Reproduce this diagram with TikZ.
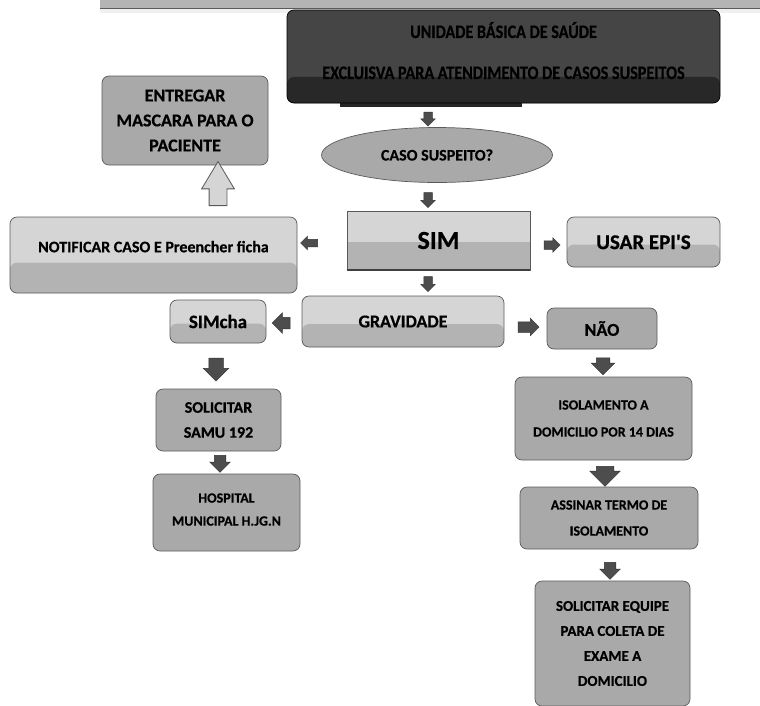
\documentclass[tikz,border=0pt]{standalone}
\usepackage{fontspec}
\setmainfont{Carlito}[BoldFeatures={FakeBold=0.6}]
\newfontfamily\ubsfont{Carlito}[FakeStretch=0.85, BoldFeatures={FakeBold=0.6}]
\usetikzlibrary{shapes.geometric,shapes.arrows,calc}

\definecolor{boxline}{HTML}{5A5A5A}
\definecolor{boxfill}{HTML}{A9A9A9}
\definecolor{lighttop}{HTML}{D5D5D5}
\definecolor{lightbot}{HTML}{B3B3B3}
\definecolor{ubstop}{HTML}{454545}
\definecolor{ubsbot}{HTML}{282828}
\definecolor{arrfill}{HTML}{4D4D4D}
\definecolor{arrline}{HTML}{333333}
\definecolor{topband}{HTML}{B4B4B4}

\tikzset{
  caixa/.style={draw=boxline, fill=boxfill, rounded corners=7pt, align=center,
                inner sep=0pt, line width=0.7pt},
  duas/.style 2 args={path picture={\fill[#2]
      ($(path picture bounding box.north west)!#1!(path picture bounding box.south west)$)
      rectangle (path picture bounding box.south east);}},
  seta/.style={single arrow, draw=arrline, fill=arrfill, inner xsep=0pt,
               single arrow head indent=0pt, line width=0.5pt},
}

\begin{document}
\begin{tikzpicture}[x=1pt,y=-1pt]
    \useasboundingbox (0,0) rectangle (760,705);

    %%% Faixa do topo %%%
    \fill[topband] (100,0) rectangle (760,8);
    \draw[boxline] (100,8) -- (760,8);
    \fill[gray!12] (100,9) rectangle (760,13);

    %%% Caixas %%%
    \fill[black!85] (340,100) rectangle (522,107);
    \node[caixa, fill=ubstop, duas={0.72}{ubsbot}, draw=black, minimum width=433pt, minimum height=93pt,
          text depth=12pt, font=\ubsfont\bfseries\fontsize{19}{41}\selectfont] (ubs) at (503.5,56.5)
          {UNIDADE BÁSICA DE SAÚDE\\EXCLUISVA PARA ATENDIMENTO DE CASOS SUSPEITOS};
    \node[caixa, ellipse, minimum width=231pt, minimum height=55pt,
          font=\bfseries\fontsize{16}{19}\selectfont] (caso) at (437,155) {CASO SUSPEITO?};
    \node[caixa, rounded corners=0pt, fill=lighttop, duas={0.52}{lightbot}, minimum width=183pt, minimum height=59pt,
          font=\bfseries\fontsize{26}{30}\selectfont] (sim) at (438.5,240.5) {SIM};
    \draw[line width=2pt, black!75] (sim.south west) -- (sim.south east);
    \node[caixa, fill=lighttop, duas={0.6}{lightbot}, minimum width=287pt, minimum height=76pt,
          text height=10pt, text depth=15.6pt,
          font=\bfseries\fontsize{16}{19}\selectfont] (notif) at (153.5,255) {NOTIFICAR CASO E Preencher ficha};
    \node[caixa, minimum width=166pt, minimum height=89pt,
          font=\bfseries\fontsize{18}{25}\selectfont] (masc) at (185,120.5) {ENTREGAR\\MASCARA PARA O\\PACIENTE};
    \node[caixa, fill=lighttop, duas={0.55}{lightbot}, minimum width=153pt, minimum height=50pt,
          font=\bfseries\fontsize{21}{24}\selectfont] (usar) at (643.5,242) {USAR EPI\textquotesingle S};
    \node[caixa, fill=lighttop, duas={0.55}{lightbot}, minimum width=202pt, minimum height=51pt,
          font=\bfseries\fontsize{18}{22}\selectfont] (grav) at (403,321.5) {GRAVIDADE};
    \node[caixa, fill=lighttop, duas={0.55}{lightbot}, minimum width=96pt, minimum height=43pt,
          font=\bfseries\fontsize{19}{22}\selectfont] (simcha) at (218,321.5) {SIMcha};
    \node[caixa, minimum width=110pt, minimum height=41pt,
          font=\bfseries\fontsize{18}{22}\selectfont] (nao) at (602,328.5) {NÃO};
    \node[caixa, minimum width=125pt, minimum height=62pt,
          font=\bfseries\fontsize{16}{25}\selectfont] (samu) at (218.5,420) {SOLICITAR\\SAMU 192};
    \node[caixa, minimum width=147pt, minimum height=77pt, text depth=6pt,
          font=\bfseries\fontsize{14}{23}\selectfont] (hosp) at (226.5,512.5) {HOSPITAL\\MUNICIPAL H.JG.N};
    \node[caixa, minimum width=177pt, minimum height=83pt,
          font=\bfseries\fontsize{14}{27}\selectfont] (isol) at (603.5,418.5) {ISOLAMENTO A\\DOMICILIO POR 14 DIAS};
    \node[caixa, minimum width=178pt, minimum height=62pt,
          font=\bfseries\fontsize{14}{26}\selectfont] (assin) at (609,518) {ASSINAR TERMO DE\\ISOLAMENTO};
    \node[caixa, minimum width=155pt, minimum height=125pt,
          font=\bfseries\fontsize{15}{25}\selectfont] (equipe) at (612.5,643.5)
          {SOLICITAR EQUIPE\\PARA COLETA DE\\EXAME A\\DOMICILIO};

    %%% Setas %%%
    \node[seta, rotate=-90, minimum height=14pt, inner ysep=4pt, single arrow head extend=3pt] (s1) at (428,117) {};
    \node[seta, rotate=-90, minimum height=15pt, inner ysep=4pt, single arrow head extend=3pt] (s2) at (428,198) {};
    \node[seta, rotate=-90, minimum height=15pt, inner ysep=4pt, single arrow head extend=3pt] (s3) at (428,282) {};
    \node[seta, rotate=180, minimum height=17pt, inner ysep=3.5pt, single arrow head extend=3pt] (s4) at (311,243) {};
    \node[seta, minimum height=16pt, inner ysep=4pt, single arrow head extend=3pt] (s5) at (550,245) {};
    \node[seta, rotate=90, fill=lighttop, draw=boxline, line width=0.8pt, minimum height=44pt, inner ysep=8.5pt,
          single arrow head extend=7.5pt, single arrow tip angle=62] (s6) at (218,191) {};
    \node[seta, rotate=180, minimum height=18pt, inner ysep=5.5pt, single arrow head extend=4.5pt] (s7) at (284,323) {};
    \node[seta, minimum height=21pt, inner ysep=5pt, single arrow head extend=3.5pt] (s8) at (526,327) {};
    \node[seta, rotate=-90, minimum height=23pt, inner ysep=7pt, single arrow head extend=5.5pt] (s9) at (216,366) {};
    \node[seta, rotate=-90, minimum height=17pt, inner ysep=5.5pt, single arrow head extend=4.5pt] (s10) at (220,461) {};
    \node[seta, rotate=-90, minimum height=17pt, inner ysep=6.5pt, single arrow head extend=5pt] (s11) at (603,363) {};
    \node[seta, rotate=-90, minimum height=20pt, inner ysep=8.5pt, single arrow head extend=6.5pt] (s12) at (605,472) {};
    \node[seta, rotate=-90, minimum height=17pt, inner ysep=5.5pt, single arrow head extend=4.5pt] (s13) at (610,568) {};

\end{tikzpicture}
\end{document}
